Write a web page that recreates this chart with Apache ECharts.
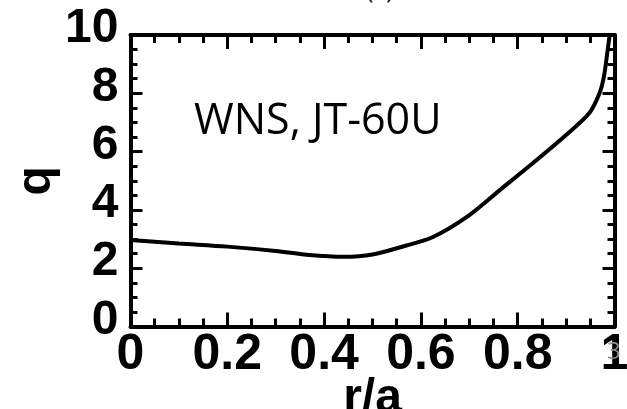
<!DOCTYPE html>
<html>
<head>
<meta charset="utf-8">
<script src="https://cdn.jsdelivr.net/npm/echarts@6/dist/echarts.min.js"></script>
<style>
  html, body { margin: 0; padding: 0; background: #fff; }
  #chart { width: 627px; height: 409px; }
</style>
</head>
<body>
<div id="chart"></div>
<script>
// Safety factor profile q(r/a)
const rOverA = [0, 0.1, 0.2, 0.3, 0.37, 0.44, 0.5, 0.57, 0.625, 0.695, 0.763, 0.831, 0.9, 0.948, 0.969, 0.978, 0.986, 0.99];
const qValues = [2.97, 2.85, 2.74, 2.59, 2.45, 2.39, 2.47, 2.78, 3.07, 3.76, 4.68, 5.6, 6.57, 7.32, 8.0, 8.56, 9.5, 10.0];

const xRange = [0, 1];
const yRange = [0, 10];
const xStep = 0.2;
const yStep = 2;

const annotation = 'WNS, JT-60U';
const panelTag = '(c)';
const pageNumber = '3';

const boldFont = 'Liberation Sans';

const chart = echarts.init(document.getElementById('chart'), null, { renderer: 'canvas' });

function xAxisDef(pos, showLabels) {
  return {
    type: 'value', position: pos, min: xRange[0], max: xRange[1], interval: xStep,
    name: showLabels ? 'r/a' : '', nameLocation: 'middle', nameGap: 48, nameMoveOverlap: false,
    nameTextStyle: { fontFamily: boldFont, fontWeight: 'bold', fontSize: 48, color: '#000' },
    axisLine: { show: true, onZero: false, lineStyle: { color: '#000', width: 4 } },
    axisTick: { show: true, inside: true, length: 14, lineStyle: { color: '#000', width: 3 } },
    minorTick: { show: true, splitNumber: 4, length: 8, lineStyle: { color: '#000', width: 3 } },
    splitLine: { show: false },
    axisLabel: { show: showLabels, margin: 4, fontFamily: boldFont, fontWeight: 'bold', fontSize: 50, color: '#000' }
  };
}

function yAxisDef(pos, showLabels) {
  return {
    type: 'value', position: pos, min: yRange[0], max: yRange[1], interval: yStep,
    name: showLabels ? 'q' : '', nameLocation: 'middle', nameGap: 70, nameRotate: 90, nameMoveOverlap: false,
    nameTextStyle: { fontFamily: boldFont, fontWeight: 'bold', fontSize: 48, color: '#000' },
    axisLine: { show: true, onZero: false, lineStyle: { color: '#000', width: 4 } },
    axisTick: { show: true, inside: true, length: 12, lineStyle: { color: '#000', width: 3 } },
    minorTick: { show: true, splitNumber: 4, length: 7, lineStyle: { color: '#000', width: 3 } },
    splitLine: { show: false },
    axisLabel: {
      show: showLabels, margin: 12, fontFamily: boldFont, fontWeight: 'bold', fontSize: 48, color: '#000',
      verticalAlign: 'bottom', lineHeight: 12
    }
  };
}

chart.setOption({
  animation: false,
  backgroundColor: '#fff',
  grid: { left: 130.5, right: 12.5, top: 35, bottom: 82.5, outerBoundsMode: 'none' },
  xAxis: [xAxisDef('bottom', true), xAxisDef('top', false)],
  yAxis: [yAxisDef('left', true), yAxisDef('right', false)],
  series: [{
    type: 'line',
    xAxisIndex: 0, yAxisIndex: 0,
    data: rOverA.map((r, i) => [r, qValues[i]]),
    showSymbol: false,
    smooth: 0.3,
    lineStyle: { color: '#000', width: 4 },
    z: 3
  }],
  graphic: [
    {
      type: 'text', left: 194, top: 100, z: 10,
      style: { text: annotation, fontFamily: 'Open Sans', fontSize: 43, fill: '#000' }
    },
    {
      type: 'text', left: 366, top: -22, z: 10,
      style: { text: panelTag, fontFamily: 'Open Sans', fontSize: 26, fill: '#222' }
    },
    {
      type: 'text', left: 607, top: 340, z: 20,
      style: { text: pageNumber, fontFamily: 'Open Sans', fontSize: 24, fill: '#8a8a8a' }
    }
  ]
});
</script>
</body>
</html>
